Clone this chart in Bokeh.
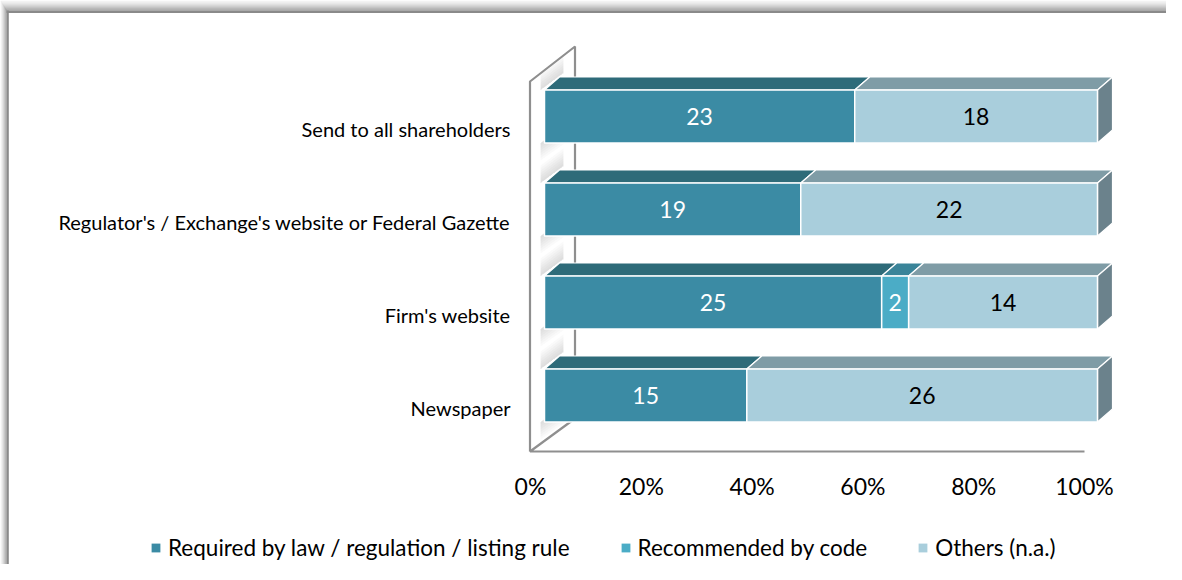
from bokeh.plotting import figure
from bokeh.models import Range1d, Legend, LegendItem, ColumnDataSource
from bokeh.embed import file_html
from bokeh.resources import INLINE
from bokeh.core.properties import value

# ---------------- data ----------------
categories = ["Newspaper", "Firm's website",
              "Regulator's / Exchange's website or Federal Gazette",
              "Send to all shareholders"]
required = [15, 25, 19, 23]
recommended = [0, 2, 0, 0]
others = [26, 14, 22, 18]
series_names = ["Required by law / regulation / listing rule",
                "Recommended by code", "Others (n.a.)"]
tick_values = [0, 20, 40, 60, 80, 100]
tick_labels = ["0%", "20%", "40%", "60%", "80%", "100%"]

# ---------------- style ----------------
front_colors = ["#3B8BA4", "#4BACC6", "#A9CEDC"]
top_colors = ["#2E6B79", "#3A8499", "#7F9CA6"]
side_color = "#6B828C"
label_colors = ["white", "white", "black"]
FONT = "Lato"

W, H = 1166, 564
PX = 5.53       # pixels per percent
CAT = 93.0      # pixels per category
X0 = 544        # screen x of 0% (bar front face)
YC0 = 395       # screen y (from top) of first category centre


def XP(px):
    return (px - X0) / PX


def YP(py):
    return (YC0 - py) / CAT


BAR_H = 53 / CAT
DX = 15 / PX
DY = 13 / CAT

p = figure(width=W, height=H, output_backend="svg", toolbar_location=None,
           x_range=Range1d(XP(0), XP(W)), y_range=Range1d(YP(H), YP(0)),
           min_border=0, outline_line_color=None)
p.axis.visible = False
p.grid.visible = False
p.background_fill_color = "white"
p.border_fill_color = "white"

# ---------------- outer chart border (top-left, with soft shadow) -------
band = ["#f4f4f4", "#eeeeee", "#e6e6e6", "#dddddd", "#d2d2d2", "#c6c6c6",
        "#b9b9b9", "#ababab", "#9e9e9e", "#959595"]
for k, c in enumerate(band):
    p.quad(left=XP(k * 0.6), right=XP(W), top=YP(k), bottom=YP(k + 1),
           fill_color=c, line_color=None)
    p.quad(left=XP(k * 0.6), right=XP(k * 0.6 + 0.6), top=YP(k),
           bottom=YP(H), fill_color=c, line_color=None)
p.quad(left=XP(6), right=XP(W), top=YP(10), bottom=YP(12.5),
       fill_color="#8a8a8a", line_color=None)
p.quad(left=XP(6), right=XP(8.3), top=YP(10), bottom=YP(H),
       fill_color="#8a8a8a", line_color=None)

# ---------------- wall & floor ----------------
wf_x, wb_x = XP(529.5), XP(574.5)
floor_y = YP(451)
wf_top, wb_top, wb_bot = YP(81), YP(46), YP(418)
floor_right = XP(1084)
wall_col = "#8f8f8f"

# soft shadows cast on the wall above / below each bar
for i in range(len(categories)):
    top_px = YC0 - i * CAT - 26.5
    bot_px = YC0 - i * CAT + 26.5
    for k in range(7):
        h = 2.5 + k * 2.5
        p.patch([XP(540), XP(563), XP(563), XP(540)],
                [YP(top_px), YP(top_px - 17), YP(top_px - 17 - h),
                 YP(top_px - h)],
                fill_color="#8c8c8c", fill_alpha=0.045, line_color=None)
        p.patch([XP(540), XP(564), XP(564), XP(540)],
                [YP(bot_px), YP(bot_px - 17), YP(bot_px - 17 + h),
                 YP(bot_px + h)],
                fill_color="#8c8c8c", fill_alpha=0.045, line_color=None)

p.line([wf_x, wf_x, wb_x, wb_x], [floor_y, wf_top, wb_top, wb_bot],
       line_color=wall_col, line_width=2.2)
p.line([wb_x, wf_x, floor_right], [wb_bot, floor_y, floor_y],
       line_color=wall_col, line_width=2.2)

# ---------------- bars ----------------
totals = [a + b + c for a, b, c in zip(required, recommended, others)]
series = [required, recommended, others]
legend_items = []
starts = [0.0] * len(categories)
for s, vals in enumerate(series):
    lefts, rights, ys, labels = [], [], [], []
    for i, v in enumerate(vals):
        if v == 0:
            continue
        share = 100.0 * v / totals[i]
        lefts.append(starts[i])
        rights.append(starts[i] + share)
        ys.append(i)
        labels.append(str(v))
        starts[i] += share
    src = ColumnDataSource(dict(
        left=lefts, right=rights,
        top=[y + BAR_H / 2 for y in ys], bottom=[y - BAR_H / 2 for y in ys],
        xc=[(a + b) / 2 for a, b in zip(lefts, rights)], y=ys, text=labels))
    # top faces
    txs, tys = [], []
    for l, r, y in zip(lefts, rights, ys):
        t = y + BAR_H / 2
        txs.append([l, r, r + DX, l + DX])
        tys.append([t, t, t + DY, t + DY])
    p.patches(txs, tys, fill_color=top_colors[s], line_color="white",
              line_width=1.2)
    # side faces (only where the bar reaches 100%)
    sxs, sys_ = [], []
    for r, y in zip(rights, ys):
        if r > 99.9:
            t = y + BAR_H / 2
            b = y - BAR_H / 2
            sxs.append([r, r + DX, r + DX, r])
            sys_.append([b, b + DY, t + DY, t])
    if sxs:
        p.patches(sxs, sys_, fill_color=side_color, line_color="white",
                  line_width=1.2)
    # un-outlined fill (used as legend swatch), then outlined front face
    r_leg = p.quad(left="left", right="right", top="top", bottom="bottom",
                   source=src, fill_color=front_colors[s], line_color=None)
    p.quad(left="left", right="right", top="top", bottom="bottom",
           source=src, fill_color=front_colors[s],
           line_color="white", line_width=1.5)
    p.text(x="xc", y="y", text="text", source=src,
           text_align="center", text_baseline="middle",
           text_font=value(FONT), text_font_size="23px",
           text_color=label_colors[s])
    legend_items.append(LegendItem(label=series_names[s], renderers=[r_leg]))

# ---------------- category labels ----------------
p.text(x=[XP(510)] * len(categories),
       y=[i - 12 / CAT for i in range(len(categories))],
       text=categories, text_align="right", text_baseline="middle",
       text_font=value(FONT), text_font_size="20px", text_color="black")

# ---------------- tick labels ----------------
p.text(x=[XP(530) + v * 554 / 553 for v in tick_values],
       y=[YP(485)] * len(tick_values),
       text=tick_labels, text_align="center", text_baseline="middle",
       text_font=value(FONT), text_font_size="23px", text_color="black")

# ---------------- legend ----------------
legend = Legend(items=legend_items, orientation="horizontal",
                location=(150, 3), glyph_width=11, glyph_height=11,
                label_standoff=7, spacing=50, padding=0, margin=0,
                label_text_font=FONT, label_text_font_size="22.5px",
                label_text_color="black", label_height=20,
                border_line_color=None, background_fill_alpha=0)
p.add_layout(legend)

open("out.html", "w").write(file_html(p, INLINE))
